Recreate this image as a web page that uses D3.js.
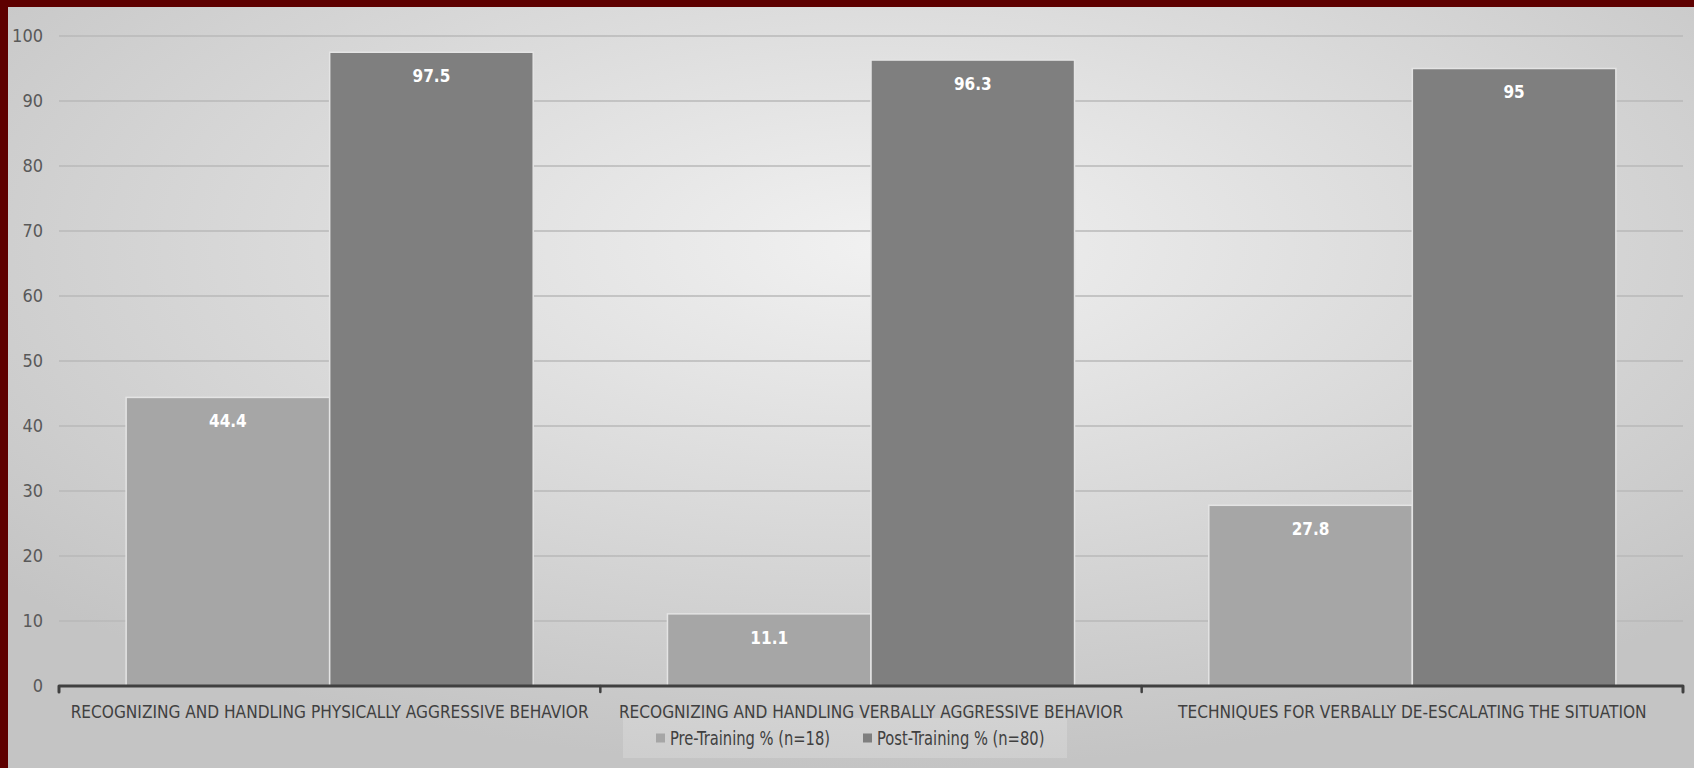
<!DOCTYPE html>
<html lang="en">
    <head>
        <meta charset="UTF-8" />
        <title>Training outcomes</title>
        <script src="https://d3js.org/d3.v7.min.js"></script>
        <style>
            body {
                margin: 0;
                background: #d9d9d9;
            }
            svg text {
                font-family: "Liberation Sans Narrow", "DejaVu Sans Condensed", "Roboto", sans-serif;
            }
            .tick-label {
                font-size: 18px;
                fill: #595959;
            }
            .cat-label {
                font-size: 18px;
                fill: #404040;
            }
            .value-label {
                font-size: 17px;
                font-weight: bold;
                fill: #ffffff;
            }
            .legend-label {
                font-size: 19px;
                fill: #404040;
            }
        </style>
    </head>
    <body>
        <svg id="chart" width="1694" height="768"></svg>
        <script>
            const categories = [
                "RECOGNIZING AND HANDLING PHYSICALLY AGGRESSIVE BEHAVIOR",
                "RECOGNIZING AND HANDLING VERBALLY AGGRESSIVE BEHAVIOR",
                "TECHNIQUES FOR VERBALLY DE-ESCALATING THE SITUATION",
            ];
            const seriesNames = ["Pre-Training % (n=18)", "Post-Training % (n=80)"];
            const preTraining = [44.4, 11.1, 27.8];
            const postTraining = [97.5, 96.3, 95];
            const yTicks = [0, 10, 20, 30, 40, 50, 60, 70, 80, 90, 100];

            const colors = ["#a6a6a6", "#7f7f7f"];
            const svg = d3.select("#chart");

            // squeeze text horizontally to mimic the narrow original font
            function narrow(sel, factor) {
                sel.each(function () {
                    const w = this.getComputedTextLength();
                    d3.select(this)
                        .attr("textLength", w * factor)
                        .attr("lengthAdjust", "spacingAndGlyphs");
                });
            }

            // background with soft radial light
            const defs = svg.append("defs");
            const grad = defs
                .append("radialGradient")
                .attr("id", "bg")
                .attr("cx", "52%")
                .attr("cy", "32%")
                .attr("r", "68%");
            grad.append("stop").attr("offset", "0%").attr("stop-color", "#f1f1f1");
            grad.append("stop").attr("offset", "100%").attr("stop-color", "#c4c4c4");

            svg.append("rect")
                .attr("width", 1694)
                .attr("height", 768)
                .attr("fill", "url(#bg)");

            // dark red frame on top and left
            svg.append("rect").attr("x", 0).attr("y", 0).attr("width", 1694).attr("height", 7).attr("fill", "#5e0000");
            svg.append("rect").attr("x", 0).attr("y", 0).attr("width", 8).attr("height", 768).attr("fill", "#5e0000");

            const plotLeft = 59,
                plotRight = 1683,
                plotTop = 36,
                plotBottom = 686;

            const y = d3.scaleLinear().domain([0, 100]).range([plotBottom, plotTop]);
            const x0 = d3.scaleBand().domain(categories).range([plotLeft, plotRight]).padding(0);
            const inner = x0.bandwidth() * 0.124;
            const x1 = d3
                .scaleBand()
                .domain([0, 1])
                .range([inner, x0.bandwidth() - inner])
                .padding(0);

            // gridlines
            svg.append("g")
                .selectAll("line")
                .data(yTicks.filter((d) => d > 0))
                .enter()
                .append("line")
                .attr("x1", plotLeft)
                .attr("x2", plotRight)
                .attr("y1", (d) => y(d))
                .attr("y2", (d) => y(d))
                .attr("stroke", "#b8b8b8")
                .attr("stroke-width", 1.5);

            // y tick labels
            svg.append("g")
                .selectAll("text")
                .data(yTicks)
                .enter()
                .append("text")
                .attr("class", "tick-label")
                .attr("x", 43)
                .attr("y", (d) => y(d))
                .attr("dy", "0.35em")
                .attr("text-anchor", "end")
                .text((d) => d);

            // bars
            const rows = categories.map((c, i) => ({
                cat: c,
                values: [preTraining[i], postTraining[i]],
            }));

            const groups = svg
                .append("g")
                .selectAll("g")
                .data(rows)
                .enter()
                .append("g")
                .attr("transform", (d) => `translate(${x0(d.cat)},0)`);

            groups
                .selectAll("rect")
                .data((d) => d.values.map((v, k) => ({ k, v })))
                .enter()
                .append("rect")
                .attr("x", (d) => x1(d.k))
                .attr("y", (d) => y(d.v))
                .attr("width", x1.bandwidth())
                .attr("height", (d) => plotBottom - y(d.v))
                .attr("fill", (d) => colors[d.k])
                .attr("stroke", "#e4e4e4")
                .attr("stroke-width", 1.5);

            groups
                .selectAll(".value-label")
                .data((d) => d.values.map((v, k) => ({ k, v })))
                .enter()
                .append("text")
                .attr("class", "value-label")
                .attr("x", (d) => x1(d.k) + x1.bandwidth() / 2)
                .attr("y", (d) => y(d.v) + 24)
                .attr("dy", "0.35em")
                .attr("text-anchor", "middle")
                .text((d) => d.v);

            // x axis
            const axis = svg.append("g").attr("transform", `translate(0,${plotBottom})`);
            axis.call(d3.axisBottom(x0).tickSize(0).tickFormat(""));
            axis.select(".domain").remove();
            axis.append("path")
                .attr("d", `M${plotLeft},6V0H${plotRight}V6`)
                .attr("fill", "none")
                .attr("stroke", "#404040")
                .attr("stroke-width", 3)
                .attr("stroke-linejoin", "round")
                .attr("stroke-linecap", "round");
            axis.selectAll(".sep")
                .data(categories.slice(1))
                .enter()
                .append("line")
                .attr("x1", (d) => x0(d))
                .attr("x2", (d) => x0(d))
                .attr("y1", 0)
                .attr("y2", 6)
                .attr("stroke", "#404040")
                .attr("stroke-width", 2.5)
                .attr("stroke-linecap", "round");

            svg.append("g")
                .selectAll("text")
                .data(categories)
                .enter()
                .append("text")
                .attr("class", "cat-label")
                .attr("x", (d) => x0(d) + x0.bandwidth() / 2)
                .attr("y", 712)
                .attr("dy", "0.35em")
                .attr("text-anchor", "middle")
                .text((d) => d)
                .call(narrow, 0.95);

            // legend
            svg.append("rect")
                .attr("x", 623)
                .attr("y", 718)
                .attr("width", 444)
                .attr("height", 40)
                .attr("fill", "#ffffff")
                .attr("opacity", 0.18);

            const legendX = [656, 863];
            const legend = svg
                .append("g")
                .selectAll("g")
                .data(seriesNames)
                .enter()
                .append("g")
                .attr("transform", (d, i) => `translate(${legendX[i]},738)`);
            legend
                .append("rect")
                .attr("x", 0)
                .attr("y", -4.5)
                .attr("width", 9)
                .attr("height", 9)
                .attr("fill", (d, i) => colors[i]);
            legend
                .append("text")
                .attr("class", "legend-label")
                .attr("x", 14)
                .attr("dy", "0.35em")
                .text((d) => d)
                .call(narrow, 0.86);
        </script>
    </body>
</html>
